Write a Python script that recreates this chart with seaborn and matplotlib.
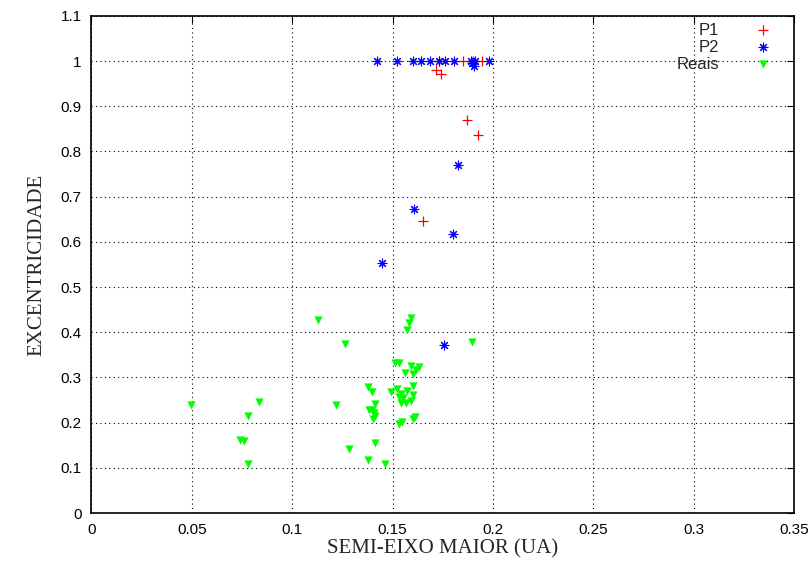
import pandas as pd
import matplotlib
matplotlib.use("Agg")
import matplotlib.pyplot as plt
import seaborn as sns

# P1 points (semi-major axis, eccentricity)
p1_a = [0.1729, 0.1716, 0.1742, 0.185, 0.190, 0.1944, 0.1873, 0.1927, 0.165]
p1_e = [1.0, 0.981, 0.971, 1.0, 1.0, 1.0, 0.869, 0.836, 0.646]

# P2 points
p2_a = [0.1425, 0.1522, 0.160, 0.1644, 0.1687, 0.1732, 0.1762, 0.1806,
        0.189, 0.1898, 0.1906, 0.1912, 0.198, 0.1825, 0.1606, 0.1803, 0.1449, 0.1757]
p2_e = [1.0, 1.0, 1.0, 1.0, 1.0, 1.0, 1.0, 1.0,
        1.0, 0.995, 0.99, 1.0, 1.0, 0.771, 0.672, 0.617, 0.553, 0.372]

# Real exoplanets
reais_a = [0.1898, 0.159, 0.158, 0.157, 0.1127, 0.1262, 0.1513, 0.153, 0.159,
           0.163, 0.1616, 0.156, 0.160, 0.1376, 0.1396, 0.149, 0.160, 0.152,
           0.157, 0.160, 0.154, 0.153, 0.1553, 0.1543, 0.1567, 0.159, 0.1219,
           0.1414, 0.1384, 0.140, 0.1409, 0.1414, 0.1404, 0.161, 0.160, 0.1545,
           0.1533, 0.1414, 0.1281, 0.1376, 0.1462, 0.0498, 0.0834, 0.0779,
           0.0738, 0.0759, 0.0779]
reais_e = [0.378, 0.431, 0.420, 0.406, 0.427, 0.374, 0.3325, 0.3325, 0.325,
           0.322, 0.316, 0.310, 0.307, 0.279, 0.268, 0.267, 0.281, 0.274,
           0.271, 0.261, 0.263, 0.256, 0.254, 0.244, 0.243, 0.248, 0.238,
           0.241, 0.229, 0.228, 0.221, 0.215, 0.209, 0.213, 0.209, 0.201,
           0.197, 0.154, 0.1416, 0.1166, 0.1077, 0.240, 0.2456, 0.2146,
           0.1615, 0.160, 0.109]

df_p1 = pd.DataFrame({"a": p1_a, "e": p1_e})
df_p2 = pd.DataFrame({"a": p2_a, "e": p2_e})
df_r = pd.DataFrame({"a": reais_a, "e": reais_e})

sns.set_style("white")
plt.rcParams['font.family'] = ['Liberation Sans', 'DejaVu Sans']

fig = plt.figure(figsize=(8.11, 5.65), dpi=100)
ax = fig.add_axes([0.1128, 0.092, 0.979 - 0.1128, 0.972 - 0.092])

sns.scatterplot(data=df_p1, x="a", y="e", ax=ax, marker="+", color="#ff0000",
                s=45, linewidth=0.9, label="P1")
sns.scatterplot(data=df_p2, x="a", y="e", ax=ax, marker=(8, 2, 0), color="#0000ff",
                s=40, linewidth=0.8, label="P2")
sns.scatterplot(data=df_r, x="a", y="e", ax=ax, marker="v", color="#00ff00",
                s=35, linewidth=0, label="Reais")

ax.set_xlim(0, 0.35)
ax.set_ylim(0, 1.1)
ax.set_xticks([0, 0.05, 0.1, 0.15, 0.2, 0.25, 0.3, 0.35])
ax.set_xticklabels(["0", "0.05", "0.1", "0.15", "0.2", "0.25", "0.3", "0.35"])
ax.set_yticks([i / 10 for i in range(12)])
ax.set_yticklabels(["0", "0.1", "0.2", "0.3", "0.4", "0.5", "0.6", "0.7",
                    "0.8", "0.9", "1", "1.1"])
ax.tick_params(direction="in", top=True, right=True, length=5, width=0.8,
               labelsize=11, pad=7, colors="black")
ax.grid(True, linestyle=(0, (1, 3)), color="black", linewidth=0.8)
for sp in ax.spines.values():
    sp.set_color("black")
    sp.set_linewidth(1.2)

ax.set_xlabel("SEMI-EIXO MAIOR (UA)", family="Liberation Serif", fontsize=15, labelpad=2)
ax.set_ylabel("EXCENTRICIDADE", family="Liberation Serif", fontsize=15, labelpad=10)

leg = ax.legend(loc="upper right", bbox_to_anchor=(0.9815, 1.006), frameon=False,
                markerfirst=False, fontsize=12, handletextpad=2.1, handlelength=1.0,
                labelspacing=0.12, borderaxespad=0.2, borderpad=0.4)

fig.savefig("out.png", dpi=100)
